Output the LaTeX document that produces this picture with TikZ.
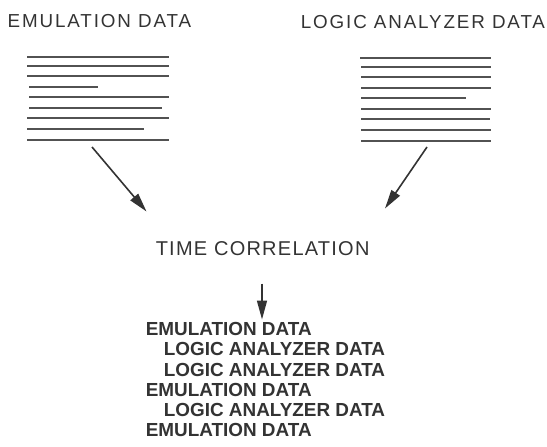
\documentclass[tikz,border=0pt]{standalone}
\usepackage{fontspec}
\setmainfont{Liberation Sans}
\usetikzlibrary{arrows.meta}
\definecolor{ink}{rgb}{0.2,0.2,0.2}
\tikzset{
  title/.style={inner sep=0pt, anchor=base west, text=ink,
    font=\fontsize{18.8}{20}\selectfont\addfontfeatures{LetterSpace=10}},
  heading/.style={inner sep=0pt, anchor=base west, text=ink,
    font=\fontsize{20}{22}\selectfont\addfontfeatures{LetterSpace=6.2}},
  entry/.style={inner sep=0pt, anchor=base west, text=ink,
    font=\fontsize{18.9}{20}\selectfont\bfseries},
  rule/.style={draw=ink!85, line width=2pt},
  flow/.style={draw=ink, line width=1.6pt,
    -{Triangle[length=19pt,width=10pt]}}
}
\begin{document}
\begin{tikzpicture}[x=1pt,y=-1pt]
\useasboundingbox (0,0) rectangle (547,447);

% column titles
\node[title] (emu) at (7.5,27.3) {EMULATION DATA};
\node[title] (lad) at (300.6,28.3) {LOGIC ANALYZER DATA};

% listing of emulation data (left)
\foreach \y/\xa/\xb in {56.7/27/169, 65.7/27/169, 76/27/169, 87/29/98,
    97.3/29/169, 107.7/29/162, 118.3/27/169, 129/27/144, 140.3/27/169}
  \draw[rule] (\xa,\y) -- (\xb,\y);

% listing of logic analyzer data (right)
\foreach \y/\xa/\xb in {57.7/360/491, 67.3/361/491, 77.3/361/491,
    87.7/361/491, 98.3/361/466, 109/361/491, 119.3/361/490,
    130/361/491, 141.3/361/491}
  \draw[rule] (\xa,\y) -- (\xb,\y);

% correlation step
\coordinate (la) at (92,147);
\coordinate (ra) at (427,147);
\node[heading] (tc) at (155.6,255) {TIME CORRELATION};
\coordinate (lt) at (146.5,211.5);
\coordinate (rt) at (385,208.5);
\draw[flow] (la) -- (lt);
\draw[flow] (ra) -- (rt);

\coordinate (ds) at (262,283.5);
\coordinate (dt) at (262,319.5);
\draw[flow] (ds) -- (dt);

% merged, time-ordered result
\node[entry] (r1) at (145.6,335.6) {EMULATION DATA};
\node[entry] (r2) at (163.7,355.8) {LOGIC ANALYZER DATA};
\node[entry] (r3) at (163.7,376.0) {LOGIC ANALYZER DATA};
\node[entry] (r4) at (145.6,396.2) {EMULATION DATA};
\node[entry] (r5) at (163.7,416.4) {LOGIC ANALYZER DATA};
\node[entry] (r6) at (145.6,436.6) {EMULATION DATA};
\end{tikzpicture}
\end{document}
